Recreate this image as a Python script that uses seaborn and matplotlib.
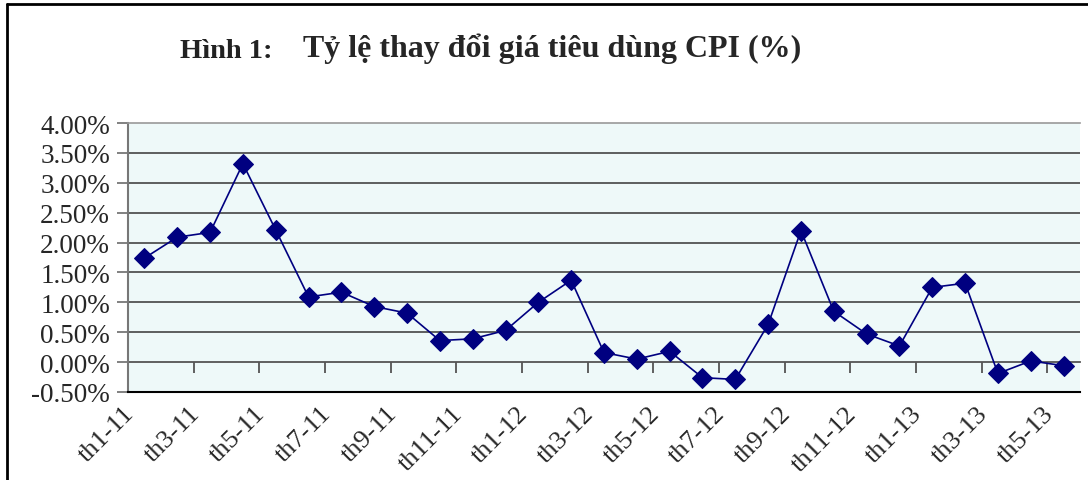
import numpy as np
import pandas as pd
import seaborn as sns
import matplotlib.pyplot as plt
from matplotlib.lines import Line2D

sns.set_style("white")
plt.rcParams['font.family'] = ['Liberation Serif', 'DejaVu Serif']

# monthly CPI change, Jan 2011 - May 2013
months = ["th1-11", "th2-11", "th3-11", "th4-11", "th5-11", "th6-11", "th7-11", "th8-11",
          "th9-11", "th10-11", "th11-11", "th12-11", "th1-12", "th2-12", "th3-12", "th4-12",
          "th5-12", "th6-12", "th7-12", "th8-12", "th9-12", "th10-12", "th11-12", "th12-12",
          "th1-13", "th2-13", "th3-13", "th4-13", "th5-13"]
cpi = [1.74, 2.09, 2.17, 3.32, 2.21, 1.09, 1.17, 0.93, 0.82, 0.36, 0.39, 0.53,
       1.00, 1.37, 0.16, 0.05, 0.18, -0.26, -0.29, 0.63, 2.20, 0.85, 0.47, 0.27,
       1.25, 1.32, -0.19, 0.02, -0.06]
yticks = [-0.5, 0, 0.5, 1, 1.5, 2, 2.5, 3, 3.5, 4]

df = pd.DataFrame({"pos": np.arange(len(months)), "cpi": cpi})

fig = plt.figure(figsize=(10.88, 4.81), dpi=100)
ax = fig.add_axes([128/1088, 1-393/481, (1080-128)/1088, (393-124)/481])
ax.set_facecolor("#eef9f9")

# horizontal gridlines
for v in yticks[2:-1]:
    ax.axhline(v, color="#444444", lw=1.2, zorder=1)

sns.lineplot(data=df, x="pos", y="cpi", ax=ax, color="#000080", lw=1.2,
             marker="D", markersize=10, markeredgecolor="#000080", zorder=3)

ax.set_xlim(-0.5, len(months) - 0.5)
ax.set_ylim(-0.5, 4)
ax.set_yticks(yticks)
ax.set_yticklabels([f"{v:.2f}%" for v in yticks], fontsize=19.5)
ax.set_xlabel("")
ax.set_ylabel("")

# category labels, every second month
lab_pos = np.arange(0, len(months), 2)
ax.set_xticks(lab_pos - 0.42)
ax.set_xticklabels([months[i] for i in lab_pos], rotation=45, ha="right",
                   va="center", rotation_mode="anchor", fontsize=19)
ax.tick_params(axis="x", length=0, pad=13)
ax.tick_params(axis="y", direction="out", length=8, color="#777777", width=1.3, left=True, pad=5)

ax.spines["right"].set_visible(False)
ax.spines["top"].set_color("#999999")
ax.spines["top"].set_linewidth(1.2)
ax.spines["left"].set_color("#777777")
ax.spines["left"].set_linewidth(1.5)
ax.spines["bottom"].set_color("black")
ax.spines["bottom"].set_linewidth(1.5)

# zero axis with tick marks between category pairs
sec = ax.secondary_xaxis((0 + 0.5) / 4.5)
sec.set_xticks(np.arange(1.5, len(months) - 1, 2))
sec.set_xticklabels([])
sec.tick_params(direction="out", length=8, color="#555555", width=1.3)
sec.spines["bottom"].set_color("#555555")
sec.spines["bottom"].set_linewidth(1.3)

fig.text(180/1088, 1-52/481, "Hình 1:", fontsize=20.5, fontweight="bold", va="center", color="#222222")
fig.text(303/1088, 1-49/481, "Tỷ lệ thay đổi giá tiêu dùng CPI (%)", fontsize=23,
         fontweight="bold", va="center")

# chart frame
fig.add_artist(Line2D([7/1088, 1], [1-5/481, 1-5/481], color="black", lw=2))
fig.add_artist(Line2D([7/1088, 7/1088], [0, 1-5/481], color="black", lw=2))

plt.savefig("out.png", dpi=100)
